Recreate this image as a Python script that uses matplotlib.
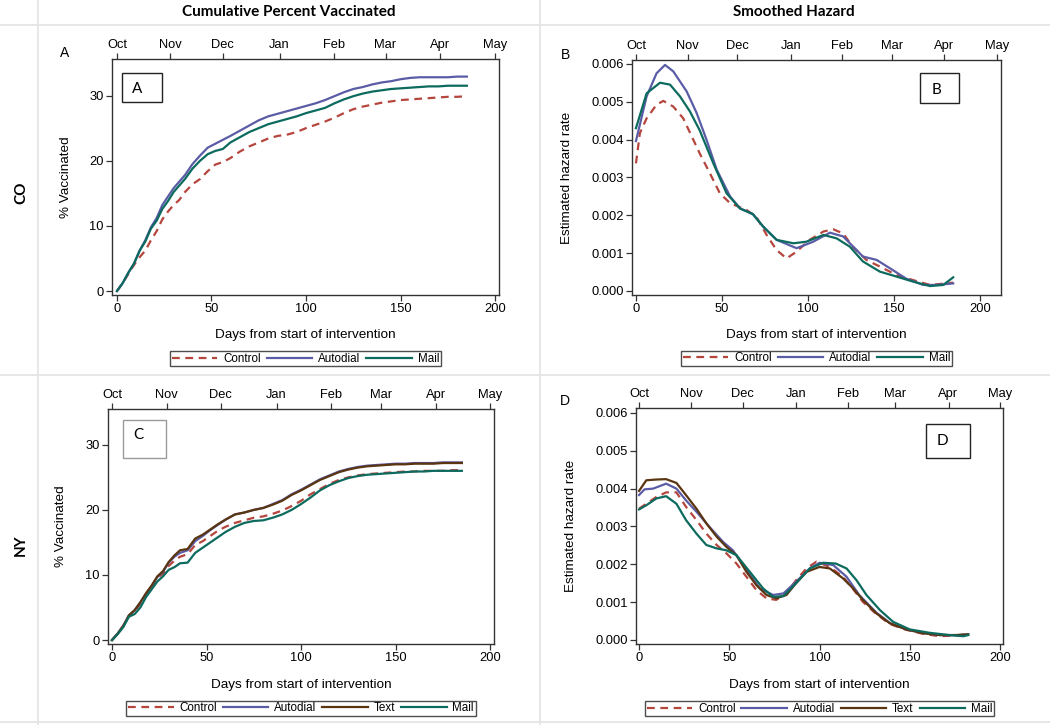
import matplotlib
matplotlib.use('Agg')
import matplotlib.pyplot as plt
from matplotlib.lines import Line2D
from matplotlib.patches import Rectangle

plt.rcParams['font.family'] = ['Liberation Sans', 'DejaVu Sans']

W, H = 1050, 725

# cumulative percent vaccinated, CO (panel A)
days_a = [0, 3, 6, 9, 12, 15, 18, 21, 24, 27, 30, 33, 36, 40, 44, 48, 52, 56, 60, 65, 70, 75,
          80, 85, 90, 95, 100, 105, 110, 115, 120, 125, 130, 135, 140, 145, 150, 155, 160,
          165, 170, 175, 180, 185]
co_cum_control = [0, 1.2, 2.6, 4.0, 5.2, 6.2, 7.8, 9.2, 11.0, 12.2, 13.2, 14.0, 15.2, 16.4, 17.2,
                  18.4, 19.4, 19.8, 20.4, 21.4, 22.2, 22.8, 23.4, 23.8, 24.0, 24.4, 25.0, 25.5,
                  26.0, 26.6, 27.3, 27.9, 28.3, 28.6, 28.9, 29.1, 29.3, 29.4, 29.5, 29.6, 29.7,
                  29.8, 29.8, 29.9]
co_cum_autodial = [0, 1.2, 2.8, 4.2, 6.2, 7.8, 9.8, 11.2, 13.2, 14.5, 15.8, 16.8, 17.8, 19.5, 20.8,
                   22.0, 22.6, 23.2, 23.8, 24.6, 25.4, 26.2, 26.8, 27.2, 27.6, 28.0, 28.4, 28.8,
                   29.3, 29.9, 30.5, 31.0, 31.3, 31.7, 32.0, 32.2, 32.5, 32.7, 32.8, 32.8, 32.8,
                   32.8, 32.9, 32.9]
co_cum_mail = [0, 1.2, 2.8, 4.2, 6.2, 7.6, 9.6, 10.8, 12.6, 13.8, 15.2, 16.2, 17.2, 18.8, 20.0,
               21.0, 21.5, 21.8, 22.8, 23.6, 24.4, 25.0, 25.6, 26.0, 26.4, 26.8, 27.3, 27.7,
               28.1, 28.8, 29.4, 29.9, 30.3, 30.6, 30.8, 31.0, 31.1, 31.2, 31.3, 31.4, 31.4,
               31.5, 31.5, 31.5]

# cumulative percent vaccinated, NY (panel C)
days_c = days_a
ny_cum_control = [0, 1.0, 2.2, 3.8, 4.4, 5.6, 7.0, 8.2, 9.6, 10.2, 11.4, 12.2, 12.8, 13.2, 14.6,
                  15.2, 16.0, 16.8, 17.4, 18.0, 18.4, 18.8, 19.0, 19.4, 19.9, 20.6, 21.4, 22.4,
                  23.2, 24.0, 24.6, 25.0, 25.3, 25.5, 25.6, 25.7, 25.8, 25.9, 25.9, 26.0, 26.0,
                  26.0, 26.1, 26.1]
ny_cum_autodial = [0, 1.0, 2.2, 3.8, 4.6, 5.8, 7.1, 8.3, 9.7, 10.5, 11.9, 12.8, 13.4, 13.8, 15.2,
                   16.0, 16.9, 17.7, 18.5, 19.3, 19.6, 20.0, 20.3, 20.9, 21.5, 22.4, 23.1, 23.9,
                   24.7, 25.3, 25.9, 26.3, 26.6, 26.8, 26.9, 27.0, 27.1, 27.1, 27.2, 27.2, 27.2,
                   27.3, 27.3, 27.3]
ny_cum_text = [0, 1.0, 2.2, 3.8, 4.6, 5.8, 7.2, 8.4, 9.8, 10.6, 12.0, 13.0, 13.8, 14.0, 15.6,
               16.2, 17.0, 17.8, 18.5, 19.3, 19.6, 20.0, 20.3, 20.8, 21.4, 22.3, 23.0, 23.8,
               24.6, 25.2, 25.8, 26.2, 26.5, 26.7, 26.8, 26.9, 27.0, 27.0, 27.1, 27.1, 27.1,
               27.2, 27.2, 27.2]
ny_cum_mail = [0, 0.9, 2.0, 3.6, 4.0, 5.0, 6.6, 7.8, 9.0, 9.8, 10.8, 11.2, 11.8, 11.9, 13.4,
               14.2, 15.0, 15.8, 16.6, 17.4, 18.0, 18.3, 18.4, 18.8, 19.3, 20.0, 20.9, 21.9,
               23.0, 23.8, 24.4, 24.9, 25.2, 25.4, 25.5, 25.6, 25.7, 25.8, 25.9, 25.9, 26.0,
               26.0, 26.0, 26.0]

# smoothed hazard, CO (panel B)
co_haz_control_d = [0, 2.3, 6.2, 12, 15.9, 21.7, 27.5, 33.3, 37, 43, 48.8, 54.7, 64.3, 70, 76,
                    81.8, 87.6, 93.4, 101, 109, 114.7, 120.5, 126, 134, 143.8, 151.6, 161, 171,
                    184.5]
co_haz_control = [0.00337, 0.00417, 0.00456, 0.00492, 0.00502, 0.00487, 0.00456, 0.00400, 0.00364,
                  0.00311, 0.00258, 0.00232, 0.00214, 0.00196, 0.00148, 0.00108, 0.00086,
                  0.00104, 0.00135, 0.00157, 0.00163, 0.00152, 0.00117, 0.00082, 0.00060,
                  0.00042, 0.00029, 0.00016, 0.00022]
co_haz_autodial_d = [0, 6.2, 12, 16.9, 21.7, 29.5, 35.3, 41, 47, 54.7, 60.5, 68, 74, 81.8, 93.4,
                     103, 112.8, 120.5, 132, 140, 147.7, 157, 167, 175, 184.5]
co_haz_autodial = [0.00396, 0.00514, 0.00575, 0.00597, 0.00580, 0.00527, 0.00470, 0.00400,
                   0.00320, 0.00250, 0.00218, 0.00203, 0.00170, 0.00135, 0.00113, 0.00130,
                   0.00154, 0.00144, 0.00091, 0.00082, 0.00060, 0.00033, 0.00016, 0.00016,
                   0.00020]
co_haz_mail_d = [0, 6.2, 14, 19.8, 25.6, 31.4, 37, 45, 52.7, 60.5, 68, 74, 81.8, 91.5, 99, 109,
                 116.7, 124.4, 132, 141.9, 151.6, 161, 171, 178.7, 184.5]
co_haz_mail = [0.00430, 0.00522, 0.00550, 0.00545, 0.00514, 0.00474, 0.00425, 0.00337, 0.00258,
               0.00218, 0.00203, 0.00170, 0.00135, 0.00126, 0.00130, 0.00148, 0.00139, 0.00117,
               0.00078, 0.00051, 0.00038, 0.00025, 0.00013, 0.00016, 0.00036]

# smoothed hazard, NY (panel D)
ny_haz_control_d = [0, 4, 9.6, 15, 20.7, 26, 31.8, 37.3, 43, 48.4, 54, 59.5, 65, 70.6, 76, 81.7,
                    87, 92.8, 98.3, 105.7, 113, 118.7, 124, 131.6, 139, 148, 157.5, 166.7, 176,
                    182.4]
ny_haz_control = [0.00347, 0.00360, 0.00378, 0.00390, 0.00390, 0.00352, 0.00317, 0.00281,
                  0.00251, 0.00229, 0.00202, 0.00167, 0.00132, 0.00110, 0.00106, 0.00123,
                  0.00158, 0.00189, 0.00207, 0.00193, 0.00167, 0.00134, 0.00101, 0.00068,
                  0.00042, 0.00027, 0.00016, 0.00010, 0.00012, 0.00014]
ny_haz_autodial_d = [0, 3, 7.8, 15, 20.7, 26, 31.8, 39, 46.6, 52, 59.5, 67, 74.3, 80, 87, 94.6,
                     100, 107.6, 115, 122, 131.6, 139, 148, 157.5, 166.7, 176, 182.4]
ny_haz_autodial = [0.00383, 0.00398, 0.00400, 0.00413, 0.00400, 0.00369, 0.00339, 0.00299,
                   0.00259, 0.00237, 0.00185, 0.00136, 0.00119, 0.00123, 0.00154, 0.00189,
                   0.00204, 0.00198, 0.00167, 0.00119, 0.00072, 0.00045, 0.00028, 0.00018,
                   0.00013, 0.00013, 0.00015]
ny_haz_text_d = [0, 4, 9.6, 15, 20.7, 26, 31.8, 37.3, 43, 48.4, 54, 59.5, 65, 70.6, 76, 81.7, 87,
                 92.8, 100, 105.7, 113, 118.7, 124, 131.6, 139, 148, 157.5, 166.7, 176, 182.4]
ny_haz_text = [0.00394, 0.00422, 0.00424, 0.00425, 0.00415, 0.00383, 0.00347, 0.00308, 0.00273,
               0.00246, 0.00224, 0.00180, 0.00145, 0.00119, 0.00110, 0.00119, 0.00150, 0.00180,
               0.00193, 0.00189, 0.00163, 0.00136, 0.00106, 0.00070, 0.00044, 0.00028, 0.00018,
               0.00013, 0.00013, 0.00015]
ny_haz_mail_d = [0, 4, 9.6, 15, 20.7, 26, 31.8, 37.3, 43, 48.4, 54, 61.4, 68.8, 74.3, 80, 87,
                 94.6, 102, 109, 115, 120.5, 126, 133.5, 140.8, 150, 161, 172, 179.7, 182.4]
ny_haz_mail = [0.00345, 0.00356, 0.00374, 0.00380, 0.00360, 0.00317, 0.00281, 0.00251, 0.00242,
               0.00237, 0.00224, 0.00180, 0.00136, 0.00114, 0.00116, 0.00150, 0.00189, 0.00204,
               0.00202, 0.00189, 0.00158, 0.00119, 0.00079, 0.00048, 0.00028, 0.00019, 0.00013,
               0.00010, 0.00013]

month_labels = ['Oct', 'Nov', 'Dec', 'Jan', 'Feb', 'Mar', 'Apr', 'May']
month_days_a = [0, 28, 56, 86, 115, 142, 171, 200]
month_days_b = [0, 30, 59, 90, 120, 149, 179, 210]
month_days_c = [0, 29, 57.5, 87, 116, 142.5, 171.5, 200]
month_days_d = [0, 29, 57.5, 87, 116, 142, 171.5, 200]

COLORS = {'Control': '#B5463E', 'Autodial': '#5B5CA6', 'Text': '#5A3510', 'Mail': '#0C6B5E'}
FS = 9.3
LABEL_FS = 9.7
LEGEND_FS = 8.4


def px_rect(left: float, top: float, right: float, bottom: float) -> list:
    """
    Pixel box -> figure fraction rect
    """
    return [left / W, (H - bottom) / H, (right - left) / W, (bottom - top) / H]


def draw_series(ax, name: str, x: list, y: list) -> None:
    """
    One curve in SAS style
    """
    line, = ax.plot(x, y, color=COLORS[name], lw=1.6, label=name)
    if name == 'Control':
        line.set_dashes((3.5, 2.5))


def style_axes(ax, xlim, ylim, yticks, yfmt, month_days, ylabel, ylab_x, xlab_y) -> None:
    """
    Frame, ticks, labels, top month axis
    """
    ax.set_xlim(*xlim)
    ax.set_ylim(*ylim)
    ax.set_xticks([0, 50, 100, 150, 200])
    ax.set_yticks(yticks)
    ax.set_yticklabels([yfmt.format(v) for v in yticks])
    ax.tick_params(direction='out', length=4, width=0.9, labelsize=FS, pad=2, color='#333333')
    for sp in ax.spines.values():
        sp.set_linewidth(1.0)
        sp.set_color('#333333')
    ax.set_xlabel('Days from start of intervention', fontsize=LABEL_FS)
    ax.set_ylabel(ylabel, fontsize=LABEL_FS)
    ax.yaxis.set_label_coords(ylab_x, 0.5)
    ax.xaxis.set_label_coords(0.5, xlab_y)
    top = ax.twiny()
    top.set_xlim(*xlim)
    top.set_xticks(month_days)
    top.set_xticklabels(month_labels)
    top.tick_params(direction='out', length=4, width=0.9, labelsize=FS, pad=2, color='#333333')
    for sp in top.spines.values():
        sp.set_visible(False)


def add_legend(ax, y_anchor: float) -> None:
    leg = ax.legend(loc='center', bbox_to_anchor=(0.5, y_anchor), ncol=4, fontsize=LEGEND_FS,
                    frameon=True, fancybox=False, handlelength=3.9, handletextpad=0.5,
                    columnspacing=0.5, borderpad=0.15, borderaxespad=0)
    leg.get_frame().set_edgecolor('#222222')
    leg.get_frame().set_linewidth(1.0)


def letter_box(ax, x0, y0, w, h, letter, tx, ty, edge='#222222') -> None:
    ax.add_patch(Rectangle((x0, y0), w, h, transform=ax.transAxes, fill=False,
                           edgecolor=edge, lw=1.0, zorder=5))
    ax.text(tx, ty, letter, transform=ax.transAxes, fontsize=11, ha='center', va='center',
            family=['Lato', 'DejaVu Sans'])


fig = plt.figure(figsize=(W / 100, H / 100), dpi=100)

# table grid
for xv in (38, 540):
    fig.add_artist(Line2D([xv / W, xv / W], [0, 1], color='#E3E3E3', lw=1.2))
for yv in (25, 375, 722):
    fig.add_artist(Line2D([0, 1], [1 - yv / H, 1 - yv / H], color='#E3E3E3', lw=1.2))

fig.text(289 / W, 1 - 12 / H, 'Cumulative Percent Vaccinated', ha='center', va='center',
         fontsize=11, fontweight='bold', family=['Lato', 'DejaVu Sans'])
fig.text(794 / W, 1 - 12 / H, 'Smoothed Hazard', ha='center', va='center',
         fontsize=11, fontweight='bold', family=['Lato', 'DejaVu Sans'])
fig.text(21 / W, 1 - 193 / H, 'CO', ha='center', va='center', rotation=90,
         fontsize=11, fontweight='bold', family=['Lato', 'DejaVu Sans'])
fig.text(21 / W, 1 - 545 / H, 'NY', ha='center', va='center', rotation=90,
         fontsize=11, fontweight='bold', family=['Lato', 'DejaVu Sans'])
fig.text(65 / W, 1 - 53 / H, 'A', ha='center', va='center', fontsize=10)
fig.text(566 / W, 1 - 55 / H, 'B', ha='center', va='center', fontsize=10)
fig.text(565 / W, 1 - 401 / H, 'D', ha='center', va='center', fontsize=10)

# panel A
ax_a = fig.add_axes(px_rect(112, 59, 499, 295))
draw_series(ax_a, 'Control', days_a, co_cum_control)
draw_series(ax_a, 'Autodial', days_a, co_cum_autodial)
draw_series(ax_a, 'Mail', days_a, co_cum_mail)
style_axes(ax_a, (-2.6, 202), (-0.6, 35.6), [0, 10, 20, 30], '{:g}', month_days_a,
           '% Vaccinated', -0.103, -0.145)
add_legend(ax_a, -0.27)
letter_box(ax_a, 0.026, 0.818, 0.103, 0.123, 'A', 0.065, 0.873)

# panel B
ax_b = fig.add_axes(px_rect(632, 60, 1001, 295))
draw_series(ax_b, 'Control', co_haz_control_d, co_haz_control)
draw_series(ax_b, 'Autodial', co_haz_autodial_d, co_haz_autodial)
draw_series(ax_b, 'Mail', co_haz_mail_d, co_haz_mail)
style_axes(ax_b, (-2.3, 212.3), (-0.000106, 0.0061), [0, 0.001, 0.002, 0.003, 0.004, 0.005, 0.006],
           '{:.3f}', month_days_b, 'Estimated hazard rate', -0.16, -0.145)
add_legend(ax_b, -0.27)
letter_box(ax_b, 0.780, 0.817, 0.106, 0.128, 'B', 0.824, 0.872)

# panel C
ax_c = fig.add_axes(px_rect(108, 409, 494, 644))
draw_series(ax_c, 'Control', days_c, ny_cum_control)
draw_series(ax_c, 'Autodial', days_c, ny_cum_autodial)
draw_series(ax_c, 'Text', days_c, ny_cum_text)
draw_series(ax_c, 'Mail', days_c, ny_cum_mail)
style_axes(ax_c, (-2.1, 202), (-0.6, 35.5), [0, 10, 20, 30], '{:g}', month_days_c,
           '% Vaccinated', -0.106, -0.149)
add_legend(ax_c, -0.274)
letter_box(ax_c, 0.039, 0.791, 0.111, 0.162, 'C', 0.078, 0.889, edge='#9A9A9A')

# panel D
ax_d = fig.add_axes(px_rect(636, 408, 1003, 644))
draw_series(ax_d, 'Control', ny_haz_control_d, ny_haz_control)
draw_series(ax_d, 'Autodial', ny_haz_autodial_d, ny_haz_autodial)
draw_series(ax_d, 'Text', ny_haz_text_d, ny_haz_text)
draw_series(ax_d, 'Mail', ny_haz_mail_d, ny_haz_mail)
style_axes(ax_d, (-1.7, 201.7), (-0.000106, 0.00613), [0, 0.001, 0.002, 0.003, 0.004, 0.005, 0.006],
           '{:.3f}', month_days_d, 'Estimated hazard rate', -0.161, -0.149)
add_legend(ax_d, -0.274)
letter_box(ax_d, 0.790, 0.788, 0.12, 0.144, 'D', 0.834, 0.862)

fig.savefig('out.png', dpi=100)
